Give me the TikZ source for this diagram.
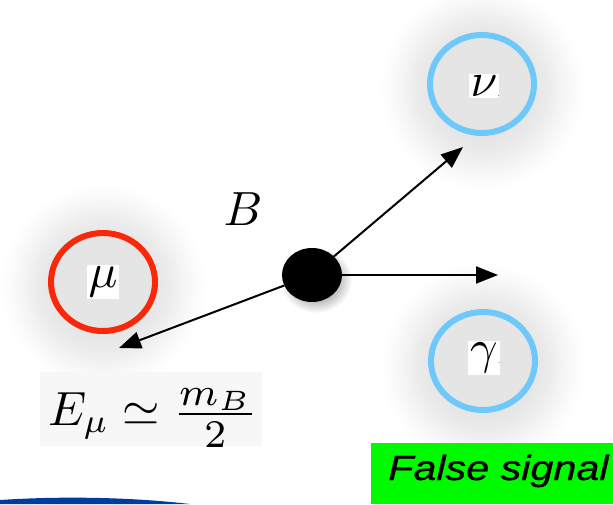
\documentclass[tikz,border=0pt]{standalone}
\usepackage{graphicx}
\usepackage{fontspec}
\usetikzlibrary{arrows.meta,shapes.geometric}
\newfontfamily\helv[FakeBold=0.6]{Liberation Sans}
\definecolor{ringred}{RGB}{250,40,10}
\definecolor{ringblue}{RGB}{110,200,250}
\definecolor{slideblue}{RGB}{0,60,160}
\definecolor{signalgreen}{RGB}{0,250,0}
\pgfdeclareradialshading{halo}{\pgfpoint{0bp}{0bp}}{color(0bp)=(black!10); color(12bp)=(black!10); color(15.5bp)=(black!8); color(19.5bp)=(black!4); color(23bp)=(black!1); color(25bp)=(white); color(50bp)=(white)}
\pgfdeclareradialshading{dotshadow}{\pgfpoint{0bp}{0bp}}{color(0bp)=(black!40); color(16bp)=(black!25); color(25bp)=(white); color(50bp)=(white)}
\tikzset{
  ring/.style={ellipse, draw=#1, line width=6pt, minimum width=104pt, minimum height=98pt, inner sep=0pt},
  greek/.style={fill=white, inner sep=2pt},
  arr/.style={line width=2pt, -{Triangle[length=22pt,width=17pt]}}
}
\newcommand{\bigsym}[1]{\scalebox{4.8}{#1}}
\newcommand{\tinydot}{\hbox to 0pt{\fontsize{10}{10}\selectfont\color{black!60}.\hss}}
\begin{document}
\begin{tikzpicture}[x=1pt,y=-1pt]
\useasboundingbox (0,0) rectangle (613,504);
% halos
\shade[shading=halo] (103,286) circle (104);
\shade[shading=halo] (482,88) circle (104);
\shade[shading=halo] (483,365) circle (104);
% rings
\node[ring=ringred] (mu) at (103,282) {};
\node[ring=ringblue] (nu) at (482,84) {};
\node[ring=ringblue] (ga) at (483,361) {};
\node[greek] (mulab) at (103,282) {\bigsym{$\mu$}};
\node[greek] (nulab) at (484,86) {\bigsym{$\nu$}\tinydot};
\node[greek] (galab) at (484,358) {\bigsym{$\gamma$}\tinydot};
% B meson
\shade[shading=dotshadow] (316,280) ellipse (36 and 33);
\node[ellipse, fill=black, minimum width=60pt, minimum height=54pt, inner sep=0pt] (dot) at (312,275) {};
\node (blab) at (243,209) {\bigsym{$B$}};
% arrows
\coordinate (mutip) at (119,348);
\coordinate (nutip) at (463,147);
\coordinate (gatip) at (498,275);
\draw[arr] (dot) -- (mutip);
\draw[arr] (dot) -- (nutip);
\draw[arr] (dot.east) -- (gatip);
% formula
\fill[black!3] (40,372) rectangle (262,446);
\node[anchor=base west, inner sep=0pt] (emu) at (48,425) {\bigsym{$E_\mu \simeq$}\hspace{12pt}\raisebox{-3pt}{\scalebox{5.6}{$\frac{m_B}{2}$}}};
% false signal
\fill[signalgreen] (371,443) rectangle (613,504);
\node[anchor=base west, inner sep=0pt, xscale=1.18, font=\helv\itshape\fontsize{35}{40}\selectfont] (fs) at (388,480) {False signal};
% slide decoration
\fill[slideblue] (0,504) -- (0,500) .. controls (60,496) and (130,497) .. (190,504) -- cycle;
\end{tikzpicture}
\end{document}
